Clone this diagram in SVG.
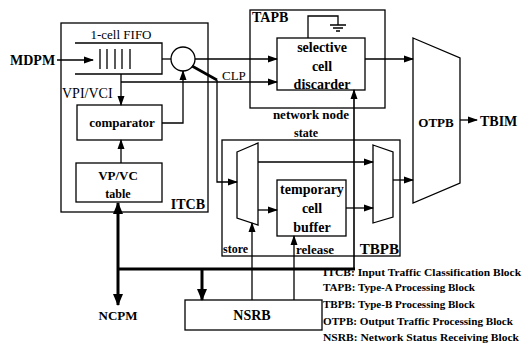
<svg xmlns="http://www.w3.org/2000/svg" width="523" height="343" viewBox="0 0 523 343" font-family="'Liberation Serif', 'Times New Roman', serif">
<style>
.b{fill:none;stroke:#000;stroke-width:1.3}
.l{fill:none;stroke:#000;stroke-width:1.3}
.t{stroke:#000;stroke-width:3;fill:none}
text{font-family:'Liberation Serif','Times New Roman',serif;fill:#000;font-weight:bold}
.n{font-weight:normal}
</style>
<defs>
<marker id="a" markerUnits="userSpaceOnUse" markerWidth="10" markerHeight="8" refX="9" refY="4" orient="auto-start-reverse"><path d="M0,0.5 L10,4 L0,7.5 Z" fill="#000"/></marker>
<marker id="ab" markerUnits="userSpaceOnUse" markerWidth="12" markerHeight="10" refX="11" refY="5" orient="auto-start-reverse"><path d="M0,0 L12,5 L0,10 Z" fill="#000"/></marker>
</defs>
<rect width="523" height="343" fill="#fff"/>
<g id="ITCB">
<rect class="b" x="61" y="23" width="147" height="189"/>
<text x="205" y="209" font-size="14" text-anchor="end">ITCB</text>
</g>
<g id="FIFO">
<path class="l" d="M75,43 H162 V74 H75"/>
<path class="l" d="M100,49 V69 M107,49 V69 M115,49 V69 M122,49 V69 M130,49 V69"/>
<text x="121" y="39" font-size="13" text-anchor="middle" class="n">1-cell FIFO</text>
</g>
<g id="selector">
<circle class="l" cx="183" cy="59" r="12"/>
</g>
<g id="comparator">
<rect class="b" x="77" y="105" width="85" height="35"/>
<text x="122" y="127" font-size="13" text-anchor="middle">comparator</text>
</g>
<g id="vpvc">
<rect class="b" x="76" y="163" width="86" height="39"/>
<text x="118" y="180" font-size="13" text-anchor="middle">VP/VC</text>
<text x="118" y="198" font-size="12" text-anchor="middle">table</text>
</g>
<g id="TAPB">
<rect class="b" x="250" y="10" width="135" height="98"/>
<text x="252" y="22" font-size="14">TAPB</text>
</g>
<g id="discarder">
<rect class="b" x="277" y="38" width="88" height="52"/>
<text x="322" y="52" font-size="14" text-anchor="middle">selective</text>
<text x="322" y="71" font-size="14" text-anchor="middle">cell</text>
<text x="322" y="89" font-size="14" text-anchor="middle">discarder</text>
<path class="l" d="M308,38 V16 H338 V25 M330,25 H346 M333,28 H343 M336,31 H340"/>
</g>
<g id="TBPB">
<rect class="b" x="222" y="140" width="178" height="116"/>
<text x="399" y="254" font-size="15" text-anchor="end">TBPB</text>
<text x="223" y="253" font-size="12">store</text>
<text x="296" y="254" font-size="13">release</text>
</g>
<g id="demux">
<path class="b" d="M237,152 L258,143 V225 L237,218 Z"/>
</g>
<g id="mux">
<path class="b" d="M373,145 L393,152 V217 L373,223 Z"/>
</g>
<g id="buffer">
<rect class="b" x="277" y="180" width="69" height="56"/>
<text x="312" y="194" font-size="14" text-anchor="middle">temporary</text>
<text x="312" y="213" font-size="14" text-anchor="middle">cell</text>
<text x="312" y="232" font-size="14" text-anchor="middle">buffer</text>
</g>
<g id="OTPB">
<path class="b" d="M413,38 L460,58 V183 L413,203 Z"/>
<text x="436" y="127" font-size="13" text-anchor="middle">OTPB</text>
</g>
<g id="NSRB">
<rect class="b" x="185" y="300" width="137" height="30"/>
<text x="252" y="320" font-size="14" text-anchor="middle">NSRB</text>
</g>
<g id="labels">
<text x="10" y="65" font-size="14">MDPM</text>
<text x="480" y="126" font-size="14">TBIM</text>
<text x="118" y="320" font-size="13" text-anchor="middle">NCPM</text>
<text x="62" y="98" font-size="14" class="n">VPI/VCI</text>
<text x="222" y="80" font-size="13" class="n">CLP</text>
<text x="311" y="119" font-size="13" text-anchor="middle">network node</text>
<text x="306" y="137" font-size="12" text-anchor="middle">state</text>
</g>
<g id="connectors">
<line class="l" x1="57" y1="60" x2="93" y2="60" marker-end="url(#a)"/>
<line class="l" x1="162" y1="59" x2="171" y2="59"/>
<line class="l" x1="121" y1="74" x2="121" y2="105" marker-end="url(#a)"/>
<line class="l" x1="121" y1="82" x2="277" y2="82" marker-end="url(#a)"/>
<line class="l" x1="195" y1="59" x2="277" y2="59" marker-end="url(#a)"/>
<path class="l" d="M162,123 H183 V71" marker-end="url(#a)"/>
<line class="l" x1="121" y1="163" x2="121" y2="140" marker-end="url(#a)"/>
<path fill="none" stroke="#000" stroke-width="2.6" d="M192,66 L217,80"/>
<path class="l" d="M217,80 V182 H237" marker-end="url(#a)"/>
<line class="l" x1="365" y1="59" x2="413" y2="59" marker-end="url(#a)"/>
<line class="l" x1="460" y1="120" x2="477" y2="120" marker-end="url(#a)"/>
<line class="l" x1="258" y1="162" x2="373" y2="162" marker-end="url(#a)"/>
<line class="l" x1="258" y1="210" x2="277" y2="210" marker-end="url(#a)"/>
<line class="l" x1="346" y1="208" x2="373" y2="208" marker-end="url(#a)"/>
<line class="l" x1="393" y1="180" x2="413" y2="180" marker-end="url(#a)"/>
<line class="t" x1="118" y1="203" x2="118" y2="305" marker-start="url(#ab)" marker-end="url(#ab)"/>
<line class="t" x1="118" y1="269" x2="355" y2="269"/>
<line class="t" x1="202" y1="269" x2="202" y2="300" marker-end="url(#ab)"/>
<line fill="none" stroke="#000" stroke-width="1.6" x1="354" y1="269" x2="354" y2="90" marker-end="url(#a)"/>
<line class="l" x1="252" y1="300" x2="252" y2="223" marker-end="url(#a)"/>
<line class="l" x1="294" y1="300" x2="294" y2="236" marker-end="url(#a)"/>
</g>
<g id="legend" font-size="10">
<text x="323" y="276" textLength="198" lengthAdjust="spacingAndGlyphs">ITCB: Input Traffic Classification Block</text>
<text x="323" y="291" textLength="152" lengthAdjust="spacingAndGlyphs">TAPB: Type-A Processing Block</text>
<text x="323" y="308" textLength="152" lengthAdjust="spacingAndGlyphs">TBPB: Type-B Processing Block</text>
<text x="323" y="325" textLength="190" lengthAdjust="spacingAndGlyphs">OTPB: Output Traffic Processing Block</text>
<text x="323" y="341" textLength="196" lengthAdjust="spacingAndGlyphs">NSRB: Network Status Receiving Block</text>
</g>
</svg>
